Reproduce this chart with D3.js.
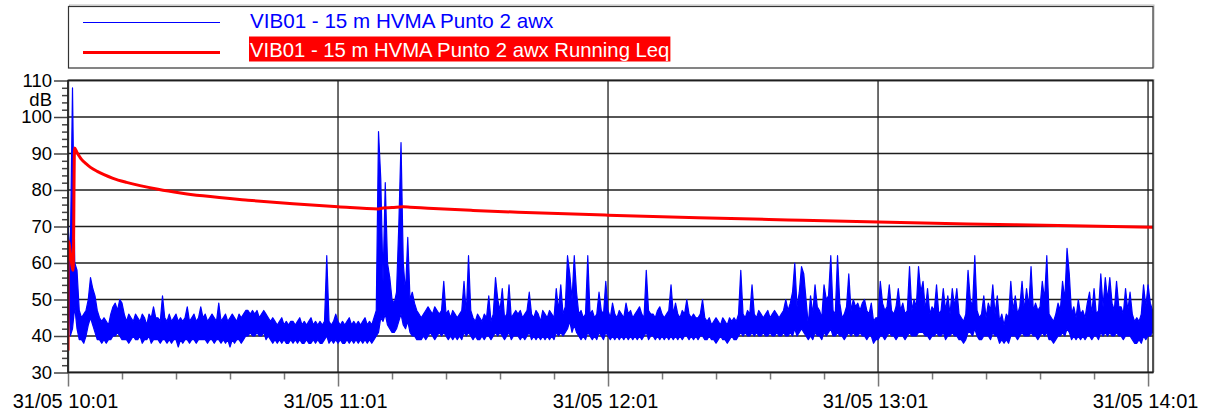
<!DOCTYPE html>
<html>
<head>
<meta charset="utf-8">
<script src="https://cdn.jsdelivr.net/npm/d3@7/dist/d3.min.js"></script>
<style>
  html, body { margin: 0; padding: 0; background: #fff; }
  svg { display: block; font-family: "Liberation Sans", Arial, sans-serif; }
</style>
</head>
<body>
<svg id="chart" width="1205" height="414"></svg>
<script>
'use strict';

var seriesNames = ['VIB01 - 15 m HVMA Punto 2 awx', 'VIB01 - 15 m HVMA Punto 2 awx Running Leq'];
var startTime = new Date(2000, 4, 31, 10, 1);
var endMinutes = 241.1;
var stepMinutes = 0.5;

// awx level, dB: highest and lowest reading in each half minute from 10:01
var awxMax = [
    70, 62, 108, 60, 58, 47, 45, 46, 47, 50, 56, 53, 51, 47, 45, 44, 45, 44, 43, 46,
    48, 49, 47, 50, 49, 46, 44, 46, 45, 44, 46, 45, 44, 46, 45, 43, 46, 45, 48, 45,
    45, 44, 51, 45, 44, 46, 44, 45, 46, 44, 45, 44, 45, 48, 44, 45, 46, 44, 45, 48,
    45, 46, 44, 45, 46, 45, 44, 49, 44, 45, 46, 44, 45, 46, 45, 44, 46, 45, 46, 47,
    47, 46, 47, 46, 47, 45, 46, 47, 46, 45, 44, 45, 44, 43, 44, 45, 43, 44, 43, 44,
    44, 43, 44, 45, 43, 44, 43, 44, 45, 43, 44, 43, 44, 43, 44, 62, 44, 43, 44, 46,
    44, 43, 44, 43, 44, 45, 43, 44, 43, 44, 43, 44, 45, 43, 44, 43, 45, 47, 96, 83,
    55, 82, 60, 56, 50, 49, 52, 70, 93, 60, 52, 67, 50, 52, 49, 47, 46, 45, 46, 47,
    48, 47, 46, 48, 47, 46, 47, 55, 46, 47, 45, 47, 46, 45, 46, 47, 55, 46, 62, 47,
    45, 44, 46, 45, 44, 46, 45, 51, 44, 46, 56, 50, 47, 53, 45, 46, 54, 45, 46, 47,
    46, 47, 45, 46, 47, 52, 46, 45, 47, 46, 44, 47, 46, 45, 47, 46, 45, 53, 47, 54,
    46, 48, 62, 57, 50, 62, 52, 46, 47, 45, 46, 62, 46, 47, 45, 46, 52, 47, 46, 55,
    47, 45, 49, 46, 45, 47, 46, 45, 49, 46, 47, 45, 46, 47, 48, 46, 45, 58, 47, 46,
    46, 45, 47, 48, 46, 45, 46, 47, 54, 46, 49, 46, 45, 47, 46, 50, 46, 45, 46, 45,
    45, 46, 50, 45, 44, 45, 43, 44, 45, 44, 43, 45, 44, 43, 45, 44, 45, 44, 46, 58,
    46, 45, 47, 46, 54, 46, 45, 47, 46, 45, 46, 47, 45, 46, 47, 46, 45, 46, 47, 50,
    47, 49, 52, 60, 48, 52, 59, 57, 50, 43, 51, 46, 54, 48, 47, 45, 54, 50, 51, 62,
    47, 46, 62, 49, 45, 46, 48, 57, 47, 50, 48, 49, 47, 49, 50, 47, 46, 49, 44, 45,
    45, 55, 49, 47, 48, 54, 47, 46, 48, 53, 47, 49, 46, 47, 59, 47, 50, 48, 59, 52,
    55, 47, 53, 46, 48, 47, 54, 46, 47, 53, 47, 51, 46, 53, 48, 53, 46, 45, 44, 46,
    58, 50, 48, 62, 47, 45, 46, 51, 45, 49, 47, 54, 46, 51, 44, 46, 43, 46, 45, 55,
    47, 51, 46, 48, 55, 47, 53, 48, 59, 47, 49, 47, 48, 55, 50, 62, 46, 45, 44, 46,
    49, 47, 55, 50, 64, 57, 46, 48, 45, 50, 46, 47, 45, 49, 52, 46, 53, 46, 47, 57,
    48, 56, 50, 56, 49, 47, 55, 48, 48, 46, 53, 47, 52, 46, 44, 45, 44, 46, 54, 48,
    54, 49, 47
];
var awxMin = [
    60, 40, 42, 48, 42, 39, 39, 38, 40, 43, 45, 43, 41, 39, 39, 38, 39, 38, 39, 39,
    40, 40, 41, 40, 39, 39, 39, 38, 39, 40, 39, 39, 40, 38, 39, 39, 40, 38, 39, 39,
    39, 38, 39, 39, 38, 39, 38, 39, 39, 37, 39, 38, 39, 39, 38, 39, 39, 38, 39, 39,
    39, 39, 38, 39, 39, 38, 39, 39, 38, 39, 38, 39, 37, 39, 38, 39, 39, 38, 39, 40,
    40, 41, 40, 40, 41, 40, 40, 41, 39, 40, 39, 38, 39, 38, 39, 38, 39, 38, 38, 39,
    38, 39, 38, 39, 38, 38, 39, 38, 38, 39, 38, 39, 38, 38, 39, 40, 38, 39, 38, 39,
    38, 39, 38, 38, 39, 38, 39, 38, 39, 38, 39, 38, 39, 38, 39, 38, 39, 40, 41, 45,
    44, 46, 43, 42, 41, 41, 42, 44, 46, 43, 42, 44, 41, 40, 40, 39, 39, 39, 40, 39,
    40, 41, 40, 39, 40, 41, 40, 41, 40, 39, 40, 39, 40, 39, 40, 39, 41, 40, 41, 40,
    39, 40, 39, 39, 40, 39, 40, 40, 39, 40, 41, 40, 41, 40, 39, 40, 41, 39, 40, 40,
    40, 39, 40, 39, 40, 41, 39, 40, 39, 40, 39, 40, 39, 40, 39, 40, 39, 41, 40, 41,
    40, 41, 42, 44, 41, 43, 41, 40, 39, 40, 39, 41, 40, 39, 40, 39, 41, 40, 39, 41,
    40, 39, 40, 39, 40, 39, 40, 39, 40, 39, 40, 39, 40, 39, 40, 39, 40, 41, 39, 40,
    40, 39, 40, 39, 40, 39, 40, 39, 40, 39, 40, 39, 40, 39, 40, 40, 39, 40, 39, 40,
    39, 40, 40, 39, 39, 40, 39, 39, 38, 39, 40, 39, 39, 38, 39, 40, 39, 39, 40, 41,
    40, 41, 40, 40, 41, 40, 41, 40, 40, 41, 40, 40, 41, 40, 40, 41, 40, 40, 41, 40,
    40, 41, 40, 42, 40, 41, 42, 41, 40, 39, 40, 39, 41, 40, 40, 39, 41, 40, 41, 42,
    40, 40, 41, 40, 40, 39, 40, 41, 40, 41, 40, 40, 41, 40, 40, 39, 40, 40, 38, 39,
    39, 40, 40, 39, 40, 41, 40, 40, 39, 40, 40, 40, 39, 40, 41, 40, 40, 40, 41, 41,
    41, 40, 40, 39, 40, 40, 41, 40, 40, 41, 39, 40, 40, 41, 40, 40, 39, 39, 38, 39,
    41, 41, 40, 42, 40, 39, 39, 40, 40, 40, 39, 41, 40, 40, 38, 39, 38, 39, 38, 40,
    40, 40, 39, 40, 41, 40, 40, 40, 41, 40, 40, 39, 40, 41, 40, 41, 39, 39, 38, 39,
    40, 40, 41, 40, 42, 41, 39, 40, 39, 40, 39, 40, 39, 40, 40, 39, 40, 40, 39, 41,
    40, 41, 40, 41, 40, 40, 41, 40, 40, 39, 40, 40, 40, 39, 38, 38, 39, 38, 40, 39,
    40, 40, 41
];

// running Leq, minutes after 10:01 and dB
var leqMinutes = [0, 0.05, 1.15, 1.45, 2, 3, 4, 5, 6.5, 8, 10, 13, 16, 20, 25, 30, 40, 50, 60, 69, 70, 72, 74.5, 76, 80, 90, 100, 120, 140, 160, 180, 200, 220, 241.1];
var leqValues = [36, 66, 58, 91.5, 90.3, 88.4, 87.2, 86.2, 85.1, 84.2, 83.2, 82.1, 81.2, 80.2, 79.2, 78.4, 77.2, 76.2, 75.4, 74.8, 75.1, 75.2, 75.4, 75.3, 75.0, 74.4, 73.9, 73.1, 72.4, 71.8, 71.2, 70.7, 70.3, 69.8];

var yTicks = [30, 40, 50, 60, 70, 80, 90, 100, 110];
var yUnit = 'dB';
var xTickMinutes = [0, 60, 120, 180, 240];
var xMinorMinutes = [12, 24, 36, 48, 72, 84, 96, 108, 132, 144, 156, 168, 192, 204, 216, 228];

var fmt = d3.timeFormat('%d/%m %H:%M');
function atMinute(m) { return new Date(startTime.getTime() + m * 60000); }

var svg = d3.select('#chart');

var plotLeft = 68, plotRight = 1153, plotTop = 80.5, plotBottom = 372.5;

var x = d3.scaleTime()
    .domain([startTime, atMinute(endMinutes)])
    .range([plotLeft, plotRight]);
var y = d3.scaleLinear()
    .domain([30, 110])
    .range([plotBottom, plotTop]);

// legend box
svg.append('rect')
    .attr('x', 69.5).attr('y', 5).attr('width', 1084.5).attr('height', 62)
    .attr('fill', 'none').attr('stroke', '#bbb').attr('stroke-width', 1);
svg.append('rect')
    .attr('x', 68.5).attr('y', 6.5).attr('width', 1084.5).attr('height', 61.5)
    .attr('fill', '#fff').attr('stroke', '#333').attr('stroke-width', 1.2);

svg.append('line')
    .attr('x1', 83).attr('x2', 220).attr('y1', 22.5).attr('y2', 22.5)
    .attr('stroke', '#0000ff').attr('stroke-width', 1.2);
svg.append('text')
    .attr('x', 250).attr('y', 27.5)
    .attr('font-size', 20.6).attr('fill', '#0000ff')
    .text(seriesNames[0]);

svg.append('line')
    .attr('x1', 83).attr('x2', 220).attr('y1', 52.5).attr('y2', 52.5)
    .attr('stroke', '#ff0000').attr('stroke-width', 3);
var redLabel = svg.append('text')
    .attr('x', 250).attr('y', 56.5)
    .attr('font-size', 20.3).attr('fill', '#fff')
    .text(seriesNames[1]);
var bb = redLabel.node().getBBox();
svg.insert('rect', function() { return redLabel.node(); })
    .attr('x', 249).attr('y', 36.5)
    .attr('width', bb.width + 2).attr('height', 25)
    .attr('fill', '#ff0000');

// plot frame shadow
svg.append('rect')
    .attr('x', plotLeft + 1).attr('y', plotTop - 1).attr('width', plotRight - plotLeft).attr('height', plotBottom - plotTop)
    .attr('fill', 'none').attr('stroke', '#bbb').attr('stroke-width', 1);

// grid
svg.append('g').selectAll('line').data(yTicks).enter().append('line')
    .attr('x1', plotLeft).attr('x2', plotRight)
    .attr('y1', function(d) { return y(d); })
    .attr('y2', function(d) { return y(d); })
    .attr('stroke', '#1e1e1e').attr('stroke-width', 1.3);
svg.append('g').selectAll('line').data(xTickMinutes).enter().append('line')
    .attr('x1', function(d) { return x(atMinute(d)); })
    .attr('x2', function(d) { return x(atMinute(d)); })
    .attr('y1', plotTop).attr('y2', plotBottom)
    .attr('stroke', '#1e1e1e').attr('stroke-width', 1.3);

// axes
var yAxis = svg.append('g')
    .attr('transform', 'translate(' + plotLeft + ',0)')
    .call(d3.axisLeft(y).tickValues(yTicks).tickSize(14).tickPadding(2).tickFormat(d3.format('d')));
var yMinor = svg.append('g')
    .attr('transform', 'translate(' + plotLeft + ',0)')
    .call(d3.axisLeft(y).tickValues(d3.range(32, 110, 2).filter(function(v) { return v % 10 !== 0; })).tickSize(6).tickFormat(''));
var xAxis = svg.append('g')
    .attr('transform', 'translate(0,' + plotBottom + ')')
    .call(d3.axisBottom(x).tickValues(xTickMinutes.map(atMinute)).tickSize(14).tickPadding(7).tickFormat(fmt));
var xMinor = svg.append('g')
    .attr('transform', 'translate(0,' + plotBottom + ')')
    .call(d3.axisBottom(x).tickValues(xMinorMinutes.map(atMinute)).tickSize(7).tickFormat(''));

[yAxis, yMinor, xAxis, xMinor].forEach(function(g) {
    g.select('.domain').remove();
    g.selectAll('.tick line').attr('stroke-width', 1.5);
});
yAxis.selectAll('.tick line').attr('stroke', '#444');
yMinor.selectAll('.tick line').attr('stroke', '#444');
xAxis.selectAll('.tick line').attr('stroke', '#777');
xMinor.selectAll('.tick line').attr('stroke', '#777');
yAxis.selectAll('text').attr('font-size', 18.5).attr('fill', '#000')
    .attr('font-family', '"Liberation Sans", Arial, sans-serif');
xAxis.selectAll('text').attr('font-size', 20).attr('fill', '#000').attr('dx', -3)
    .attr('font-family', '"Liberation Sans", Arial, sans-serif');

svg.append('text')
    .attr('x', 52).attr('y', y(104.9)).attr('dy', '0.35em')
    .attr('text-anchor', 'end').attr('font-size', 18.5)
    .text(yUnit);

// series
svg.append('clipPath').attr('id', 'plotClip')
    .append('rect').attr('x', plotLeft).attr('y', plotTop).attr('width', plotRight - plotLeft).attr('height', plotBottom - plotTop);

var plot = svg.append('g').attr('clip-path', 'url(#plotClip)');

var awxBand = d3.area()
    .x(function(d) { return x(atMinute(d[0])); })
    .y0(function(d) { return y(d[1]); })
    .y1(function(d) { return y(d[2]); });
var awxRows = awxMax.map(function(v, i) { return [i * stepMinutes, awxMin[i], v]; });
plot.append('path')
    .datum(awxRows)
    .attr('d', awxBand)
    .attr('fill', '#0000ff')
    .attr('stroke', '#0000ff')
    .attr('stroke-width', 1.2)
    .attr('stroke-linejoin', 'round');

var leqLine = d3.line()
    .curve(d3.curveMonotoneX)
    .x(function(d) { return x(atMinute(d[0])); })
    .y(function(d) { return y(d[1]); });
plot.append('path')
    .datum(d3.zip(leqMinutes, leqValues))
    .attr('d', leqLine)
    .attr('fill', 'none')
    .attr('stroke', '#ff0000')
    .attr('stroke-width', 3)
    .attr('stroke-linejoin', 'round');

// frame on top
svg.append('rect')
    .attr('x', plotLeft).attr('y', plotTop).attr('width', plotRight - plotLeft).attr('height', plotBottom - plotTop)
    .attr('fill', 'none').attr('stroke', '#1e1e1e').attr('stroke-width', 1.5);
</script>
</body>
</html>
